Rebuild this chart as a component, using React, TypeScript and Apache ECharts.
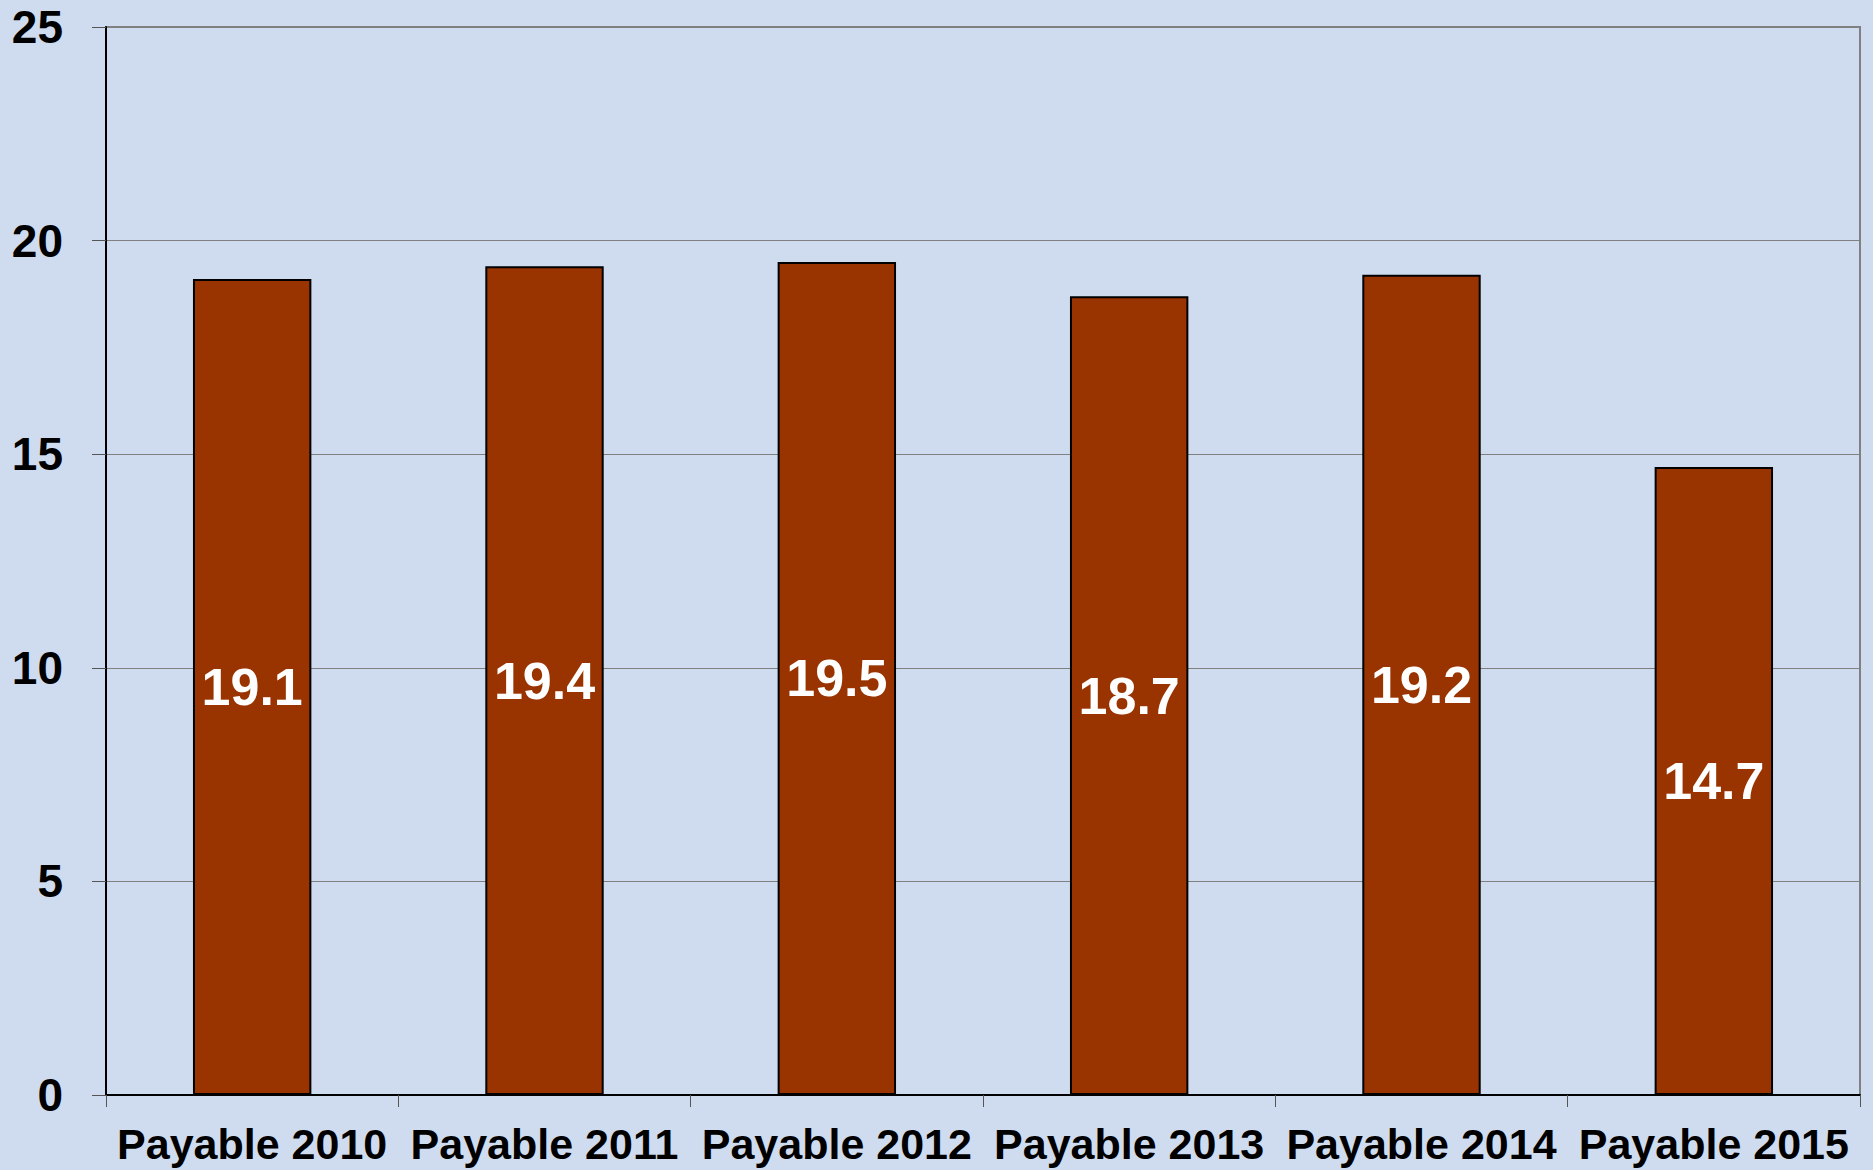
import React, { useEffect, useRef } from "react";
import * as echarts from "echarts";

const categories = ["Payable 2010", "Payable 2011", "Payable 2012", "Payable 2013", "Payable 2014", "Payable 2015"];
const values = [19.1, 19.4, 19.5, 18.7, 19.2, 14.7];
const yTicks = { min: 0, max: 25, interval: 5 };

export default function App() {
  const ref = useRef<HTMLDivElement>(null);
  useEffect(() => {
    if (!ref.current) return;
    const chart = echarts.init(ref.current, null, { renderer: "svg" });
    chart.setOption({
      animation: false,
      backgroundColor: "#CFDCEF",
      grid: {
        left: 106,
        top: 27,
        right: 13,
        bottom: 75,
        show: true,
        borderColor: "#808080",
        borderWidth: 2,
        backgroundColor: "transparent",
      },
      xAxis: {
        type: "category",
        data: categories,
        axisLine: { show: true, lineStyle: { color: "#000", width: 2 } },
        axisTick: { show: true, length: 12, lineStyle: { color: "#555", width: 1 } },
        axisLabel: {
          color: "#000",
          fontFamily: "Liberation Sans, Arial, sans-serif",
          fontWeight: "bold",
          fontSize: 43,
          margin: 27,
          interval: 0,
        },
      },
      yAxis: {
        type: "value",
        min: yTicks.min,
        max: yTicks.max,
        interval: yTicks.interval,
        axisLine: { show: true, lineStyle: { color: "#000", width: 2 } },
        axisTick: { show: true, length: 14, lineStyle: { color: "#555", width: 1 } },
        splitLine: { show: true, lineStyle: { color: "#808080", width: 1 } },
        axisLabel: {
          color: "#000",
          fontFamily: "Liberation Sans, Arial, sans-serif",
          fontWeight: "bold",
          fontSize: 46,
          margin: 43,
        },
      },
      series: [
        {
          type: "bar",
          data: values,
          barWidth: "40.5%",
          itemStyle: { color: "#993300", borderColor: "#000", borderWidth: 2 },
          label: {
            show: true,
            position: "inside",
            color: "#fff",
            fontFamily: "Liberation Sans, Arial, sans-serif",
            fontWeight: "bold",
            fontSize: 52,
            formatter: (p: any) => p.value.toFixed(1),
          },
        },
      ],
    });
    return () => chart.dispose();
  }, []);
  return (
    <div
      ref={ref}
      style={{ position: "fixed", left: 0, top: 0, width: 1873, height: 1170 }}
    />
  );
}
